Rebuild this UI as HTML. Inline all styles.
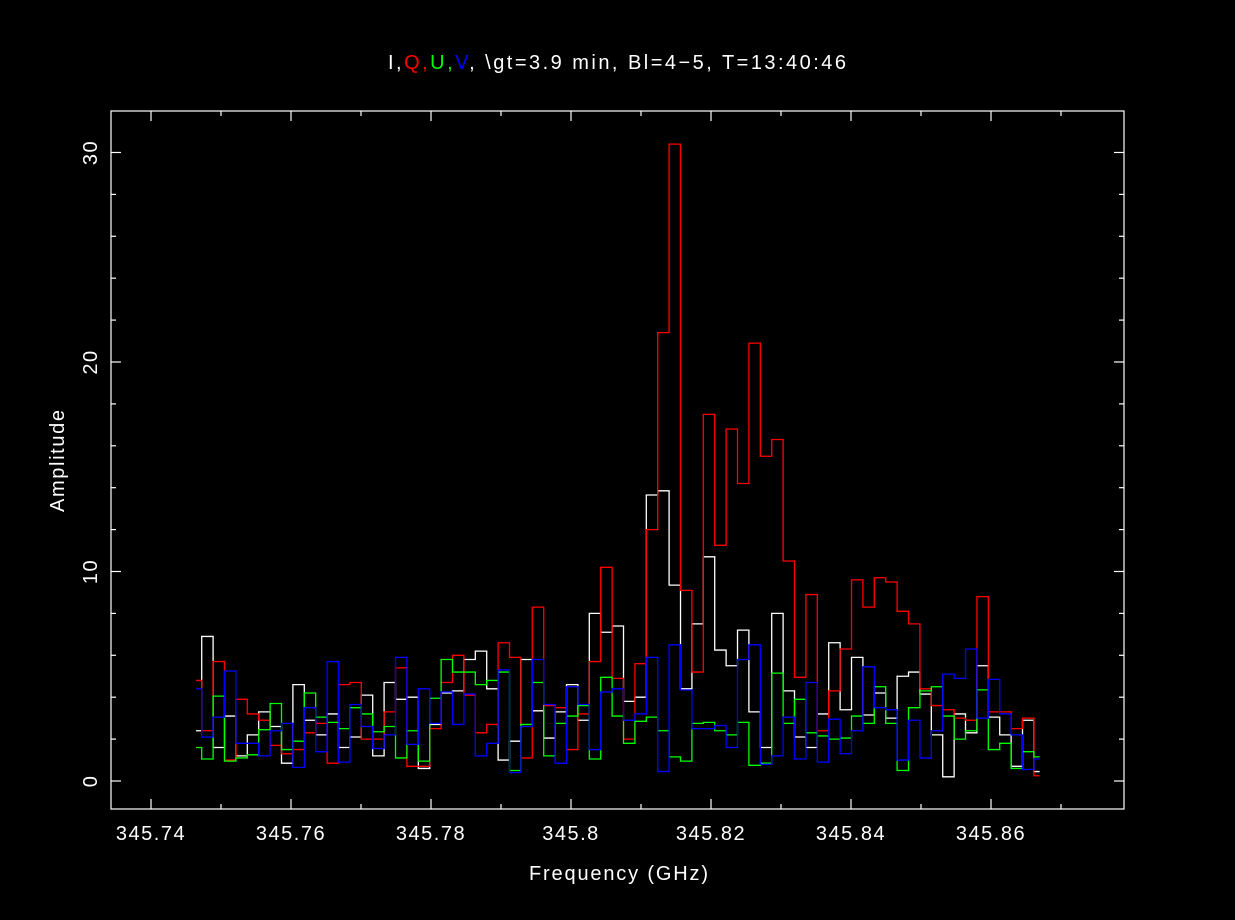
<!DOCTYPE html>
<html><head><meta charset="utf-8"><style>
html,body{margin:0;padding:0;background:#000;}
svg{display:block;}
text{font-family:"Liberation Sans","DejaVu Sans",sans-serif;fill:#fff;}
</style></head>
<body>
<svg id="chart" width="1235" height="920" viewBox="0 0 1235 920" xmlns="http://www.w3.org/2000/svg">
<rect x="0" y="0" width="1235" height="920" fill="#000"/>
<text x="388" y="69" font-size="20" textLength="458" lengthAdjust="spacing"><tspan fill="#fff">I,</tspan><tspan fill="#ff0000">Q</tspan><tspan fill="#ff0000">,</tspan><tspan fill="#00ff00">U,</tspan><tspan fill="#0000ff">V</tspan><tspan fill="#fff">, \gt=3.9  min, Bl=4−5, T=13:40:46</tspan></text>
<g id="marks"></g>
<g id="axes"></g>
<text x="529" y="880" font-size="20" textLength="179" lengthAdjust="spacing">Frequency (GHz)</text>
<text transform="translate(64,512) rotate(-90)" font-size="20" textLength="102" lengthAdjust="spacing">Amplitude</text>
</svg>
<script>
const f0 = 345.746429;
const df = 0.0016286;
const seriesNames = ["I","Q","U","V"];
const seriesColors = ["#ffffff","#ff0000","#00ff00","#0000ff"];
const valuesI = [2.4,6.9,1.6,3.1,1.2,2.2,3.3,2.6,0.85,4.6,2.9,2.2,3.2,1.6,2.1,4.1,1.2,4.7,3.9,4.0,0.6,2.7,4.2,4.3,5.8,6.2,4.4,1.0,1.9,5.8,3.35,2.05,3.3,4.6,2.9,8.0,7.1,7.4,3.8,4.0,13.65,13.85,9.35,4.4,7.5,10.7,6.25,5.5,7.2,3.3,1.6,8.0,4.3,2.1,1.6,3.2,6.6,3.4,5.9,3.15,4.2,3.0,5.0,5.2,4.15,2.2,0.2,3.2,2.3,5.5,3.05,2.2,0.7,2.9,0.45];
const valuesQ = [4.8,2.4,5.7,1.0,3.9,3.2,2.9,1.7,1.3,1.5,2.3,2.75,0.85,4.6,4.7,2.0,2.0,3.3,5.4,0.7,0.7,2.5,4.7,6.0,4.1,2.3,2.7,6.6,5.9,1.1,8.3,3.6,3.5,1.5,3.2,5.7,10.2,4.9,2.0,5.6,12.0,21.4,30.4,9.1,5.2,17.5,11.25,16.8,14.2,20.9,15.5,16.3,10.5,4.95,8.9,2.4,4.3,6.3,9.6,8.3,9.7,9.5,8.1,7.5,4.4,3.6,3.4,3.0,2.9,8.8,3.3,3.3,2.5,3.0,0.25];
const valuesU = [1.6,1.05,4.05,0.95,1.1,1.25,2.45,3.7,1.5,1.9,4.2,3.05,2.8,2.5,3.5,3.2,2.35,2.6,1.1,2.4,0.95,3.95,5.8,5.2,5.2,4.6,4.8,5.2,0.5,2.7,4.7,1.2,2.75,3.1,3.6,1.05,4.95,3.1,1.8,2.85,3.05,2.4,1.15,0.95,2.75,2.8,2.4,2.2,2.8,0.75,0.85,5.15,2.75,3.9,2.3,2.15,2.0,2.05,3.1,2.75,4.5,2.75,0.5,3.5,4.3,4.5,3.1,2.0,2.4,4.35,1.5,1.8,0.6,1.4,1.15];
const valuesV = [4.4,2.1,3.05,5.25,1.8,1.8,1.2,2.4,2.75,0.65,3.5,1.4,5.7,0.9,3.65,2.6,1.55,2.2,5.9,1.75,4.4,2.75,4.25,2.7,4.15,1.2,1.8,5.3,0.4,2.6,5.8,3.65,0.85,4.5,3.65,1.5,4.25,4.4,2.9,3.2,5.9,0.45,6.5,4.35,2.5,2.5,2.65,1.6,5.8,6.5,0.8,1.2,3.05,1.05,4.7,0.9,2.95,1.3,2.4,5.45,3.5,3.4,1.0,2.9,1.1,2.4,5.1,4.9,6.3,3.0,4.85,3.2,2.2,0.55,1.05];
const xTickValues = [345.74,345.76,345.78,345.8,345.82,345.84,345.86];
const xTickLabels = ["345.74","345.76","345.78","345.8","345.82","345.84","345.86"];
const yTickValues = [0,10,20,30];
const yTickLabels = ["0","10","20","30"];
const allSeries = [valuesI, valuesQ, valuesU, valuesV];

const L=111,R=1124,T=111,B=809;
const xMin=345.734286, xMax=345.879;
const yMin=-1.3365, yMax=31.98;
const xs = v => L + (v - xMin) / (xMax - xMin) * (R - L);
const ys = v => B - (v - yMin) / (yMax - yMin) * (B - T);
const NS="http://www.w3.org/2000/svg";
const marks=document.getElementById('marks');
const axes=document.getElementById('axes');

allSeries.forEach((vals, s) => {
  const n = vals.length;
  let d = "";
  for (let i = 0; i < n; i++) {
    const c = f0 + i * df;
    const a = i === 0 ? c : c - df / 2;
    const b = i === n - 1 ? c : c + df / 2;
    const y = ys(vals[i]).toFixed(2);
    d += (i === 0 ? "M" : "L") + xs(a).toFixed(2) + "," + y + "L" + xs(b).toFixed(2) + "," + y;
  }
  const p = document.createElementNS(NS, "path");
  p.setAttribute("d", d);
  p.setAttribute("fill", "none");
  p.setAttribute("stroke", seriesColors[s]);
  p.setAttribute("stroke-width", "1.3");
  
  
  marks.appendChild(p);
});

function line(x1,y1,x2,y2,name){
  const l=document.createElementNS(NS,"line");
  l.setAttribute("x1",x1);l.setAttribute("y1",y1);l.setAttribute("x2",x2);l.setAttribute("y2",y2);
  l.setAttribute("stroke","#fff");l.setAttribute("stroke-width","1.2");
  
  
  axes.appendChild(l);
}
const frame=document.createElementNS(NS,"rect");
frame.setAttribute("x",L);frame.setAttribute("y",T);frame.setAttribute("width",R-L);frame.setAttribute("height",B-T);
frame.setAttribute("fill","none");frame.setAttribute("stroke","#fff");frame.setAttribute("stroke-width","1.2");


axes.appendChild(frame);

for (let k = 0; k <= 14; k++) {
  const v = 345.74 + k * 0.01;
  const x = xs(v);
  if (x > R) break;
  const len = (k % 2 === 0) ? 10 : 5;
  line(x,B,x,B-len,'x-tick');
  line(x,T,x,T+len,'x-tick-top');
}
for (let k = 0; k <= 16; k++) {
  const v = k * 2;
  const y = ys(v);
  if (y < T) break;
  const len = (v % 10 === 0) ? 10 : 5;
  line(L,y,L+len,y,'y-tick');
  line(R,y,R-len,y,'y-tick-right');
}
xTickValues.forEach((v,i)=>{
  const t=document.createElementNS(NS,"text");
  t.setAttribute("x",xs(v));t.setAttribute("y",840);
  t.setAttribute("font-size","20");t.setAttribute("text-anchor","middle");
  t.setAttribute("letter-spacing","1.5");
  t.textContent=xTickLabels[i];
  
  
  axes.appendChild(t);
});
yTickValues.forEach((v,i)=>{
  const t=document.createElementNS(NS,"text");
  t.setAttribute("transform","translate(97,"+ys(v)+") rotate(-90)");
  t.setAttribute("font-size","20");t.setAttribute("text-anchor","middle");
  t.setAttribute("letter-spacing","1.5");
  t.textContent=yTickLabels[i];
  
  
  axes.appendChild(t);
});
</script>
</body></html>
